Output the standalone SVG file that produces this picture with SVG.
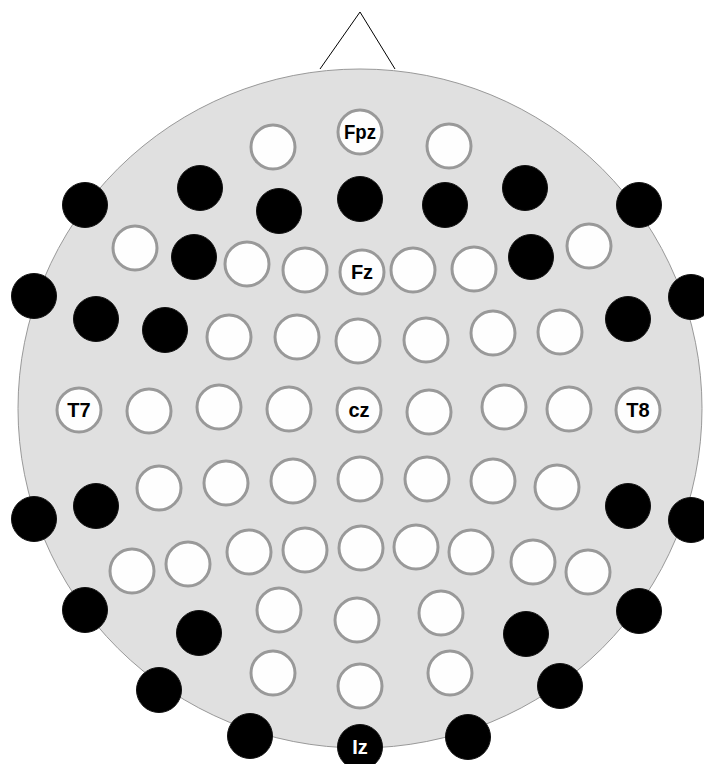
<svg xmlns="http://www.w3.org/2000/svg" width="704" height="764" viewBox="0 0 704 764">
<style>
.w{fill:#fefefe;stroke:#999;stroke-width:3}
.b{fill:#000;stroke:#111;stroke-width:1}
.t{font-family:"Liberation Sans",Arial,sans-serif;font-weight:bold;font-size:20px;text-anchor:middle;fill:#000}
.ti{font-family:"Liberation Sans",Arial,sans-serif;font-weight:bold;font-size:20px;text-anchor:middle;fill:#fff}
</style>
<rect width="704" height="764" fill="#fff"/>
<g id="head">
<polyline points="320,69 360,12 395,69" fill="none" stroke="#000" stroke-width="1"/>
<ellipse cx="360" cy="408.5" rx="342" ry="339.5" fill="#e0e0e0" stroke="#999" stroke-width="1"/>
</g>
<g id="connectors"></g>
<g id="r1">
<g id="e1_1"><circle class="w" cx="273" cy="147" r="22"/></g>
<g id="Fpz"><circle class="w" cx="360" cy="132" r="22"/><text class="t" x="360" y="139" textLength="32" lengthAdjust="spacingAndGlyphs">Fpz</text></g>
<g id="e1_3"><circle class="w" cx="449" cy="146" r="22"/></g>
</g>
<g id="r2">
<g id="e2_1"><circle class="b" cx="85" cy="205" r="22.5"/></g>
<g id="e2_2"><circle class="b" cx="200" cy="188" r="22.5"/></g>
<g id="e2_3"><circle class="b" cx="279" cy="211" r="22.5"/></g>
<g id="e2_4"><circle class="b" cx="360" cy="199" r="22.5"/></g>
<g id="e2_5"><circle class="b" cx="445" cy="205" r="22.5"/></g>
<g id="e2_6"><circle class="b" cx="525" cy="188" r="22.5"/></g>
<g id="e2_7"><circle class="b" cx="639" cy="205" r="22.5"/></g>
</g>
<g id="r3">
<g id="e3_1"><circle class="w" cx="135" cy="248" r="22"/></g>
<g id="e3_2"><circle class="b" cx="194" cy="257" r="22.5"/></g>
<g id="e3_3"><circle class="w" cx="247" cy="264" r="22"/></g>
<g id="e3_4"><circle class="w" cx="305" cy="270" r="22"/></g>
<g id="Fz"><circle class="w" cx="362" cy="272" r="22"/><text class="t" x="362" y="279">Fz</text></g>
<g id="e3_6"><circle class="w" cx="413" cy="270" r="22"/></g>
<g id="e3_7"><circle class="w" cx="474" cy="269" r="22"/></g>
<g id="e3_8"><circle class="b" cx="531" cy="257" r="22.5"/></g>
<g id="e3_9"><circle class="w" cx="589" cy="246" r="22"/></g>
</g>
<g id="r4">
<g id="e4_1"><circle class="b" cx="34" cy="296" r="22.5"/></g>
<g id="e4_2"><circle class="b" cx="96" cy="319" r="22.5"/></g>
<g id="e4_3"><circle class="b" cx="165" cy="330" r="22.5"/></g>
<g id="e4_4"><circle class="w" cx="229" cy="337" r="22"/></g>
<g id="e4_5"><circle class="w" cx="297" cy="337" r="22"/></g>
<g id="e4_6"><circle class="w" cx="358" cy="341" r="22"/></g>
<g id="e4_7"><circle class="w" cx="426" cy="340" r="22"/></g>
<g id="e4_8"><circle class="w" cx="493" cy="333" r="22"/></g>
<g id="e4_9"><circle class="w" cx="560" cy="332" r="22"/></g>
<g id="e4_10"><circle class="b" cx="628" cy="319" r="22.5"/></g>
<g id="e4_11"><circle class="b" cx="691" cy="297" r="22.5"/></g>
</g>
<g id="r5">
<g id="T7"><circle class="w" cx="79" cy="410" r="22"/><text class="t" x="79" y="417">T7</text></g>
<g id="e5_2"><circle class="w" cx="149" cy="411" r="22"/></g>
<g id="e5_3"><circle class="w" cx="219" cy="407" r="22"/></g>
<g id="e5_4"><circle class="w" cx="289" cy="409" r="22"/></g>
<g id="cz"><circle class="w" cx="359" cy="410" r="22"/><text class="t" x="359" y="417">cz</text></g>
<g id="e5_6"><circle class="w" cx="429" cy="412" r="22"/></g>
<g id="e5_7"><circle class="w" cx="504" cy="407" r="22"/></g>
<g id="e5_8"><circle class="w" cx="569" cy="409" r="22"/></g>
<g id="T8"><circle class="w" cx="638" cy="410" r="22"/><text class="t" x="638" y="417">T8</text></g>
</g>
<g id="r6">
<g id="e6_1"><circle class="b" cx="34" cy="519" r="22.5"/></g>
<g id="e6_2"><circle class="b" cx="96" cy="506" r="22.5"/></g>
<g id="e6_3"><circle class="w" cx="159" cy="488" r="22"/></g>
<g id="e6_4"><circle class="w" cx="226" cy="483" r="22"/></g>
<g id="e6_5"><circle class="w" cx="293" cy="481" r="22"/></g>
<g id="e6_6"><circle class="w" cx="360" cy="479" r="22"/></g>
<g id="e6_7"><circle class="w" cx="427" cy="479" r="22"/></g>
<g id="e6_8"><circle class="w" cx="493" cy="481" r="22"/></g>
<g id="e6_9"><circle class="w" cx="557" cy="487" r="22"/></g>
<g id="e6_10"><circle class="b" cx="628" cy="506" r="22.5"/></g>
<g id="e6_11"><circle class="b" cx="691" cy="520" r="22.5"/></g>
</g>
<g id="r7">
<g id="e7_1"><circle class="w" cx="132" cy="571" r="22"/></g>
<g id="e7_2"><circle class="w" cx="188" cy="564" r="22"/></g>
<g id="e7_3"><circle class="w" cx="249" cy="552" r="22"/></g>
<g id="e7_4"><circle class="w" cx="305" cy="550" r="22"/></g>
<g id="e7_5"><circle class="w" cx="361" cy="548" r="22"/></g>
<g id="e7_6"><circle class="w" cx="416" cy="547" r="22"/></g>
<g id="e7_7"><circle class="w" cx="471" cy="552" r="22"/></g>
<g id="e7_8"><circle class="w" cx="533" cy="562" r="22"/></g>
<g id="e7_9"><circle class="w" cx="588" cy="572" r="22"/></g>
</g>
<g id="r8">
<g id="e8_1"><circle class="b" cx="85" cy="610" r="22.5"/></g>
<g id="e8_2"><circle class="b" cx="199" cy="633" r="22.5"/></g>
<g id="e8_3"><circle class="w" cx="279" cy="610" r="22"/></g>
<g id="e8_4"><circle class="w" cx="357" cy="620" r="22"/></g>
<g id="e8_5"><circle class="w" cx="441" cy="613" r="22"/></g>
<g id="e8_6"><circle class="b" cx="526" cy="634" r="22.5"/></g>
<g id="e8_7"><circle class="b" cx="639" cy="611" r="22.5"/></g>
</g>
<g id="r9">
<g id="e9_1"><circle class="b" cx="159" cy="690" r="22.5"/></g>
<g id="e9_2"><circle class="w" cx="273" cy="673" r="22"/></g>
<g id="e9_3"><circle class="w" cx="360" cy="686" r="22"/></g>
<g id="e9_4"><circle class="w" cx="450" cy="673" r="22"/></g>
<g id="e9_5"><circle class="b" cx="560" cy="686" r="22.5"/></g>
</g>
<g id="r10">
<g id="e10_1"><circle class="b" cx="250" cy="736" r="22.5"/></g>
<g id="Iz"><circle class="b" cx="360" cy="747" r="22.5"/><text class="ti" x="360" y="754">Iz</text></g>
<g id="e10_3"><circle class="b" cx="468" cy="737" r="22.5"/></g>
</g>
</svg>
